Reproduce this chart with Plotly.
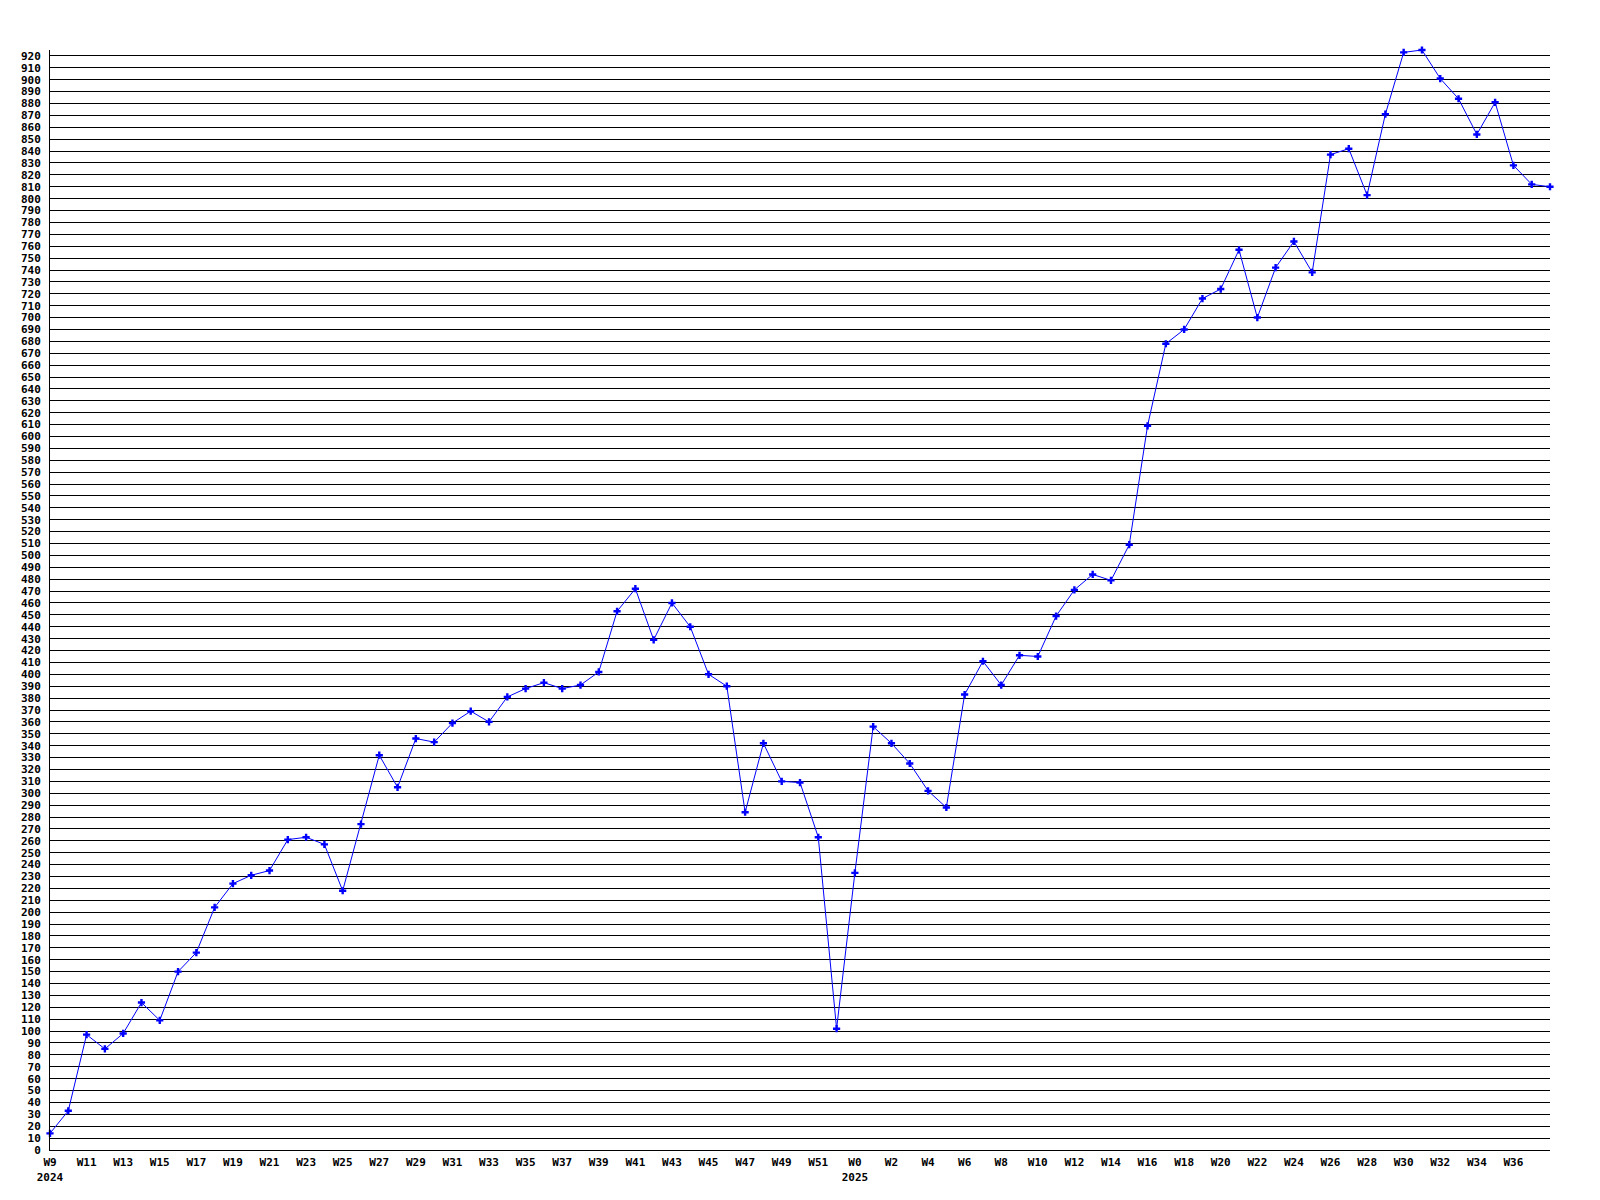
import plotly.graph_objects as go

# ---- data ----
weeks_2024 = [f"W{w}" for w in range(9, 53)]
values_2024 = [14, 33, 97, 85, 98, 124, 109, 150, 166, 204,
               224, 231, 235, 261, 263, 257, 218, 274, 332, 305,
               346, 343, 359, 369, 360, 381, 388, 393, 388, 391,
               402, 453, 472, 429, 460, 440, 400, 390, 284, 342,
               310, 309, 263, 102]
weeks_2025 = [f"W{w}" for w in range(0, 39)]
values_2025 = [233, 356, 342, 325, 302, 288, 383, 411, 391, 416,
               415, 449, 471, 484, 479, 509, 609, 678, 690, 716,
               724, 757, 700, 742, 764, 738, 837, 842, 803, 871,
               923, 925, 901, 884, 854, 881, 828, 812, 810]
years = ["2024", "2025"]
y_ticks = list(range(0, 921, 10))

# ---- build ----
categories = [f"{years[0]}-{w}" for w in weeks_2024] + [f"{years[1]}-{w}" for w in weeks_2025]
week_names = weeks_2024 + weeks_2025
values = values_2024 + values_2025

tickvals, ticktext = [], []
for i in range(0, len(categories) - 1, 2):
    tickvals.append(categories[i])
    label = week_names[i]
    if i == 0:
        label += "<br>" + years[0]
    elif i == len(weeks_2024) + weeks_2025.index("W0"):
        label += "<br>" + years[1]
    ticktext.append(label)

font = dict(family="DejaVu Sans Mono", size=11, color="black", weight="bold")

fig = go.Figure()
fig.add_trace(go.Scatter(
    x=categories, y=values, mode="lines+markers",
    line=dict(color="#0000FF", width=1),
    marker=dict(symbol="cross", size=6, color="#0000FF", line=dict(width=0)),
    cliponaxis=False,
))

# page body has an 8px default margin; compensate so the plot area sits at 50..1550 x 50..1150
fig.update_layout(
    width=1592, height=1192,
    margin=dict(l=42, r=50, t=42, b=50),
    paper_bgcolor="white", plot_bgcolor="white",
    showlegend=False,
    font=font,
)
fig.update_xaxes(
    type="category", range=[0, len(categories) - 1],
    tickvals=tickvals, ticktext=ticktext, tickfont=font,
    showgrid=False, zeroline=False,
    showline=True, linecolor="black", linewidth=1,
    ticks="", ticklabelstandoff=2,
)
fig.update_yaxes(
    range=[0, 925], tickvals=y_ticks, ticktext=[str(v) for v in y_ticks],
    tickfont=font, showgrid=True, gridcolor="black", gridwidth=1,
    zeroline=False, showline=True, linecolor="black", linewidth=1,
    ticks="", ticklabelstandoff=6,
)

fig.write_html("out.html")
